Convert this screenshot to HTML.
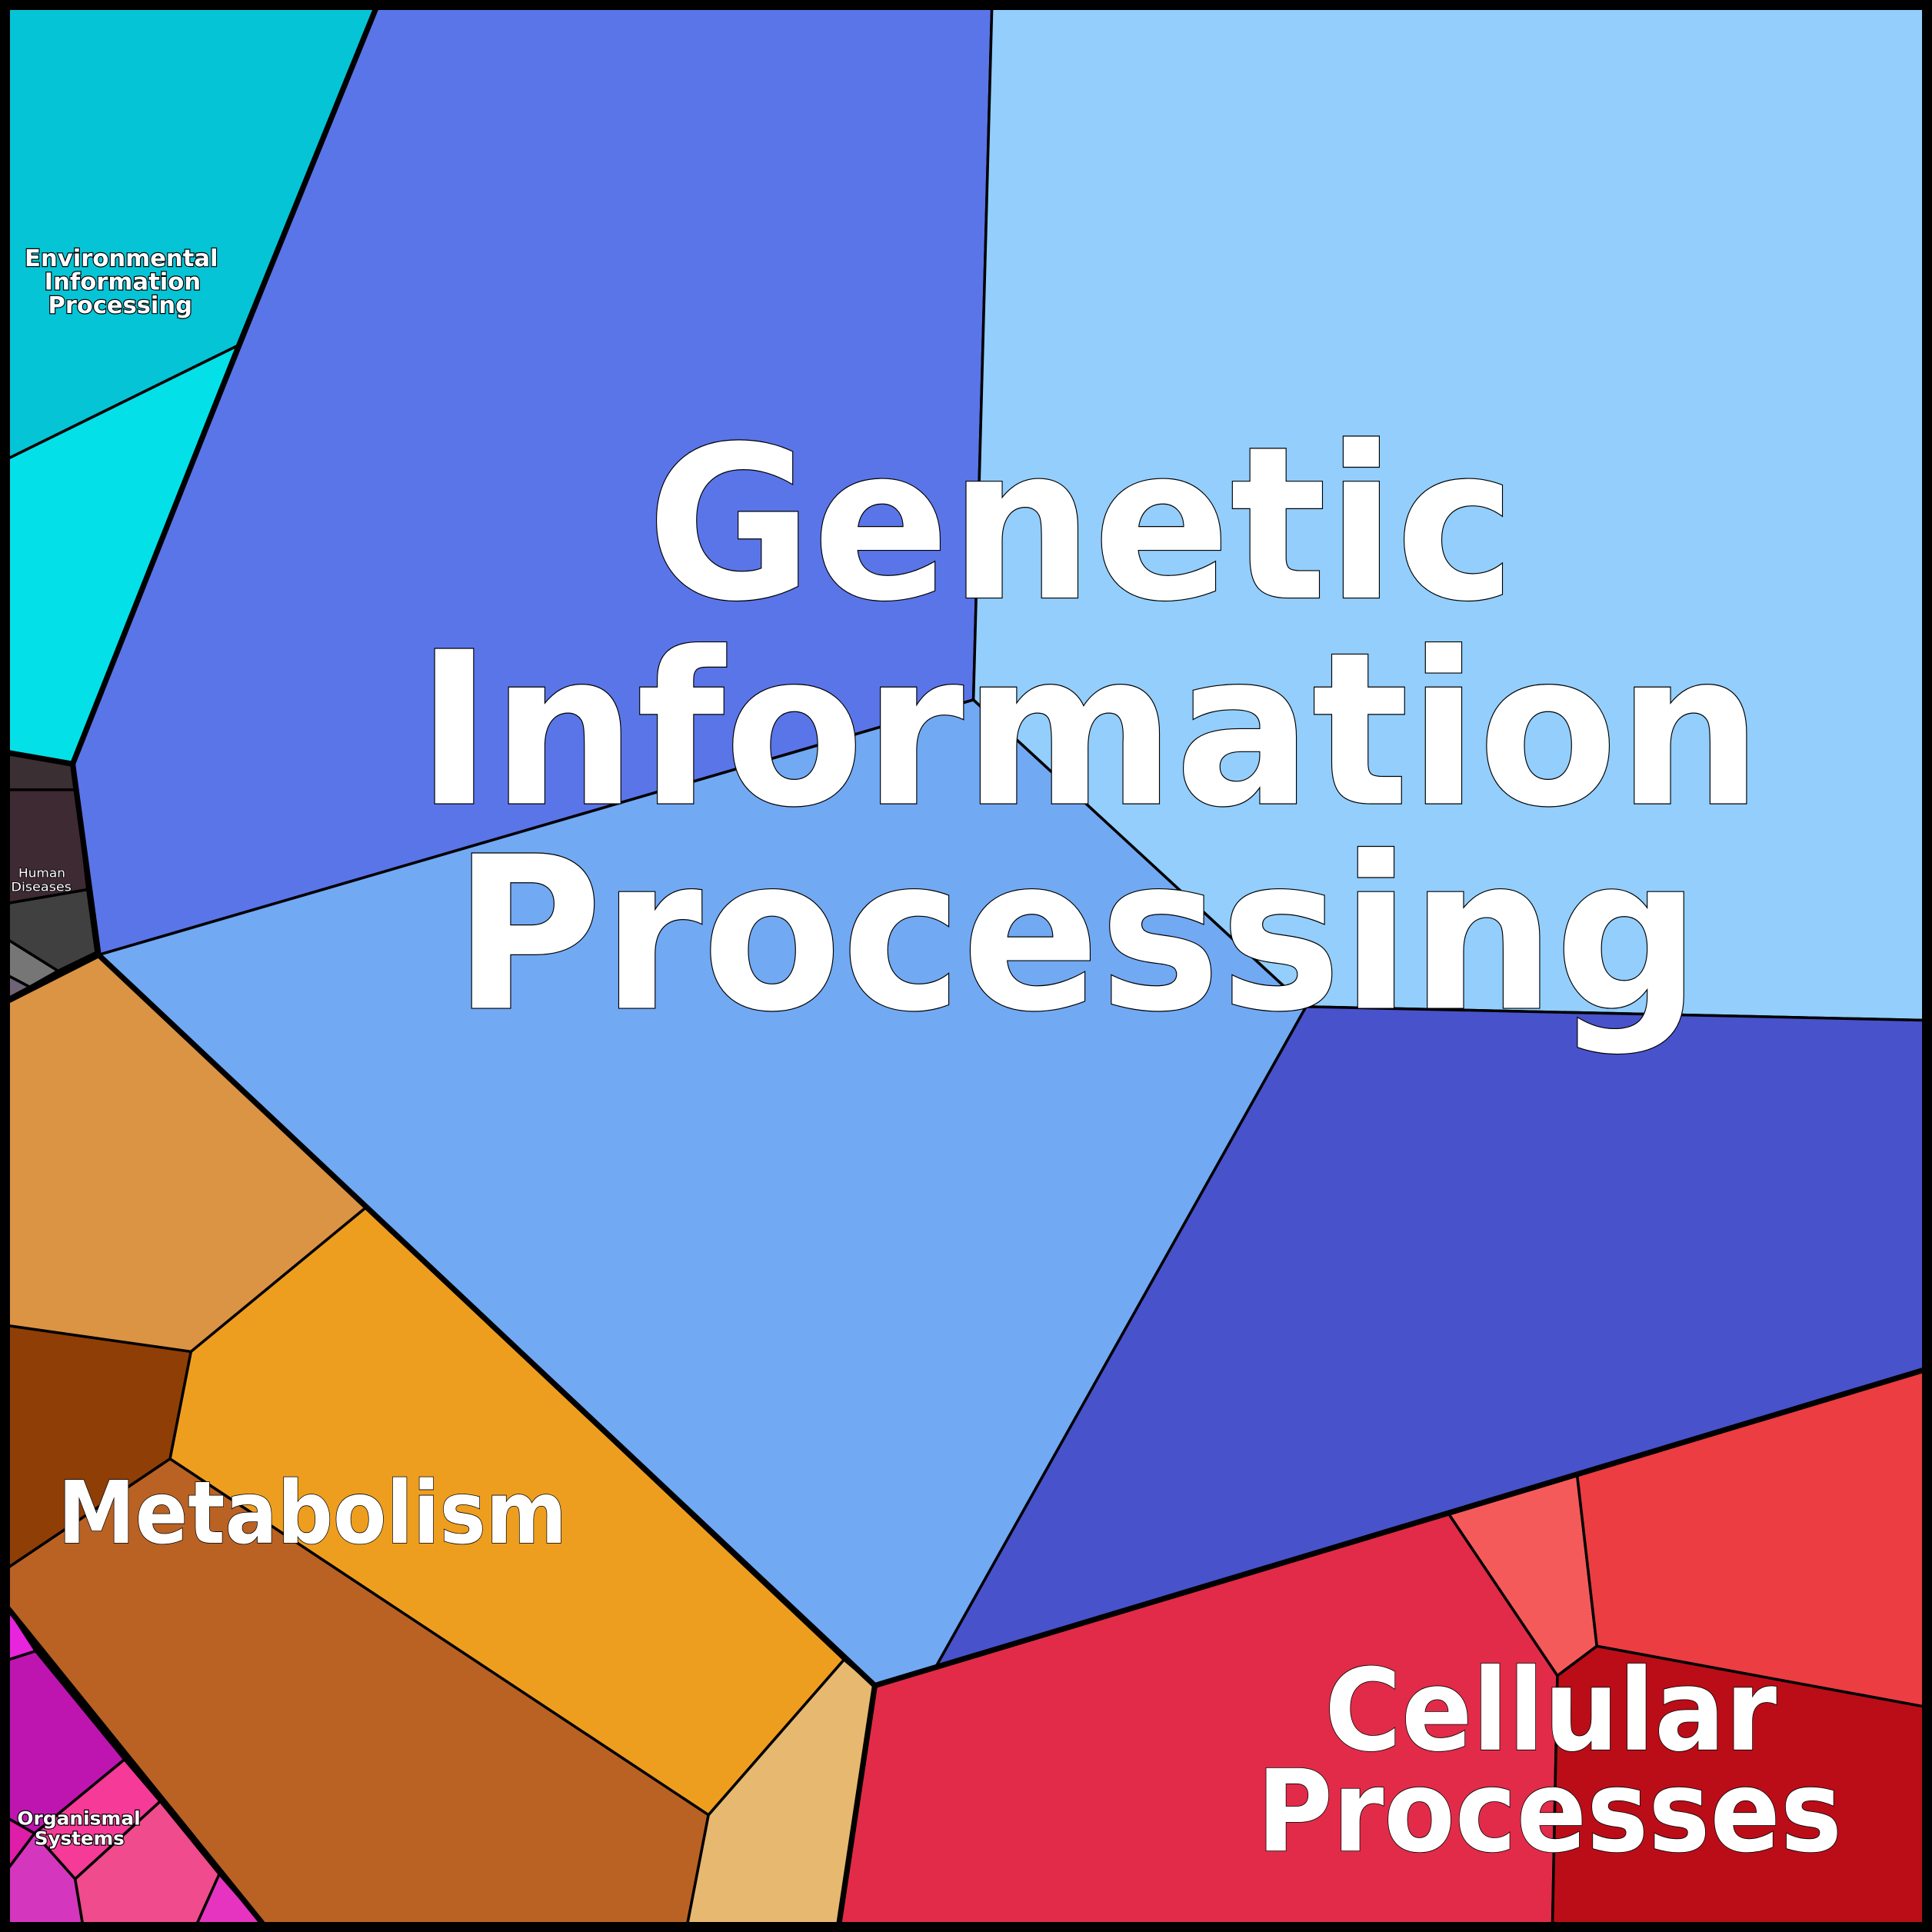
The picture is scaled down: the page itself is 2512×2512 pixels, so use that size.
<!DOCTYPE html>
<html><head><meta charset="utf-8"><style>
html,body{margin:0;padding:0;background:#000;}
svg{display:block;}
.t{font-family:"DejaVu Sans","Liberation Sans",sans-serif;font-weight:bold;fill:#fff;stroke:#000;paint-order:stroke;}
</style></head><body>
<svg width="2512" height="2512" viewBox="0 0 1568 1568" xmlns="http://www.w3.org/2000/svg">
<g stroke="#000" stroke-width="2.2" stroke-linejoin="round">
<polygon fill="#05C4D5" points="7,7 305,7 194,280 7,372"/>
<polygon fill="#04E0E8" points="7,372 194,280 59,620 7,611"/>
<polygon fill="#5A75E8" points="305,7 805,7 790,568 80,775 59,620"/>
<polygon fill="#93CEFC" points="805,7 1561,7 1561,828 1060,817 790,568"/>
<polygon fill="#71A9F3" points="80,775 790,568 1060,817 760,1352 710,1368"/>
<polygon fill="#4852CB" points="760,1352 1060,817 1561,828 1561,1112 710,1368"/>
<polygon fill="#E22B48" points="710,1368 1176,1229 1264,1360 1260,1561 681,1561"/>
<polygon fill="#F55A5A" points="1176,1229 1280,1197 1296,1336 1264,1360"/>
<polygon fill="#EB3D42" points="1280,1197 1561,1112 1561,1385 1296,1336"/>
<polygon fill="#BA0D18" points="1264,1360 1296,1336 1561,1385 1561,1561 1260,1561"/>
<polygon fill="#DB9344" points="7,812 80,775 297,980 155,1097 7,1076"/>
<polygon fill="#8F3E06" points="7,1076 155,1097 138,1184 7,1272"/>
<polygon fill="#EE9E1F" points="297,980 685,1347 575,1473 138,1184 155,1097"/>
<polygon fill="#BA6223" points="7,1272 138,1184 575,1473 558,1561 213,1561 7,1306"/>
<polygon fill="#E6B870" points="685,1347 710,1368 681,1561 558,1561 575,1473"/>
<polygon fill="#3A3033" points="7,611 59,620 62,641 7,641"/>
<polygon fill="#3E2A33" points="7,641 62,641 71,722 7,733"/>
<polygon fill="#404040" points="7,733 71,722 78,773 47,788 7,763"/>
<polygon fill="#767676" points="7,763 47,788 24,801 7,792"/>
<polygon fill="#6F6377" points="7,792 24,801 7,810"/>
<polygon fill="#E824DC" points="7,1306 29,1340 7,1347"/>
<polygon fill="#BE15B1" points="7,1347 29,1340 101,1428 28,1488 7,1476"/>
<polygon fill="#F53A98" points="101,1428 130,1462 61,1525 28,1488"/>
<polygon fill="#DE1DA8" points="7,1476 28,1488 7,1516"/>
<polygon fill="#D436BE" points="7,1516 28,1488 61,1525 67,1561 7,1561"/>
<polygon fill="#EF4B8D" points="130,1462 178,1521 160,1561 67,1561 61,1525"/>
<polygon fill="#E634C0" points="178,1521 213,1561 160,1561"/>
</g>
<g stroke="#000" stroke-width="4.5" fill="none" stroke-linejoin="round" stroke-linecap="round">
<polyline points="305,7 194,280 59,620 80,775 710,1368 1561,1112"/>
<polyline points="7,611 59,620"/>
<polyline points="7,812 80,775"/>
<polyline points="7,1306 213,1561"/>
<polyline points="710,1368 681,1561"/>
</g>
<rect x="3.5" y="3.5" width="1561" height="1561" fill="none" stroke="#000" stroke-width="7"/>
<g class="t" text-anchor="start">
<text x="525" y="485" font-size="172" stroke-width="1.5" textLength="705" lengthAdjust="spacingAndGlyphs">Genetic</text>
<text x="338" y="652" font-size="172" stroke-width="1.5" textLength="1092" lengthAdjust="spacingAndGlyphs">Information</text>
<text x="368" y="818" font-size="172" stroke-width="1.5" textLength="1012" lengthAdjust="spacingAndGlyphs">Processing</text>
<text x="47" y="1252" font-size="70" stroke-width="1" textLength="413" lengthAdjust="spacingAndGlyphs">Metabolism</text>
<text x="1075" y="1420" font-size="92" stroke-width="1" textLength="367" lengthAdjust="spacingAndGlyphs">Cellular</text>
<text x="1020" y="1502" font-size="92" stroke-width="1" textLength="475" lengthAdjust="spacingAndGlyphs">Processes</text>
<text x="20" y="216" font-size="19" stroke-width="1.5" textLength="157" lengthAdjust="spacingAndGlyphs">Environmental</text>
<text x="36" y="235" font-size="19" stroke-width="1.5" textLength="127" lengthAdjust="spacingAndGlyphs">Information</text>
<text x="39" y="254" font-size="19" stroke-width="1.5" textLength="117" lengthAdjust="spacingAndGlyphs">Processing</text>
<text x="14" y="1481" font-size="15" stroke-width="1.5" textLength="100" lengthAdjust="spacingAndGlyphs">Organismal</text>
<text x="28" y="1497" font-size="15" stroke-width="1.5" textLength="73" lengthAdjust="spacingAndGlyphs">Systems</text>
<text x="15" y="712" font-size="10" font-weight="normal" stroke-width="1" textLength="38" lengthAdjust="spacingAndGlyphs">Human</text>
<text x="9" y="723" font-size="10" font-weight="normal" stroke-width="1" textLength="49" lengthAdjust="spacingAndGlyphs">Diseases</text>
</g>
</svg>
</body></html>
